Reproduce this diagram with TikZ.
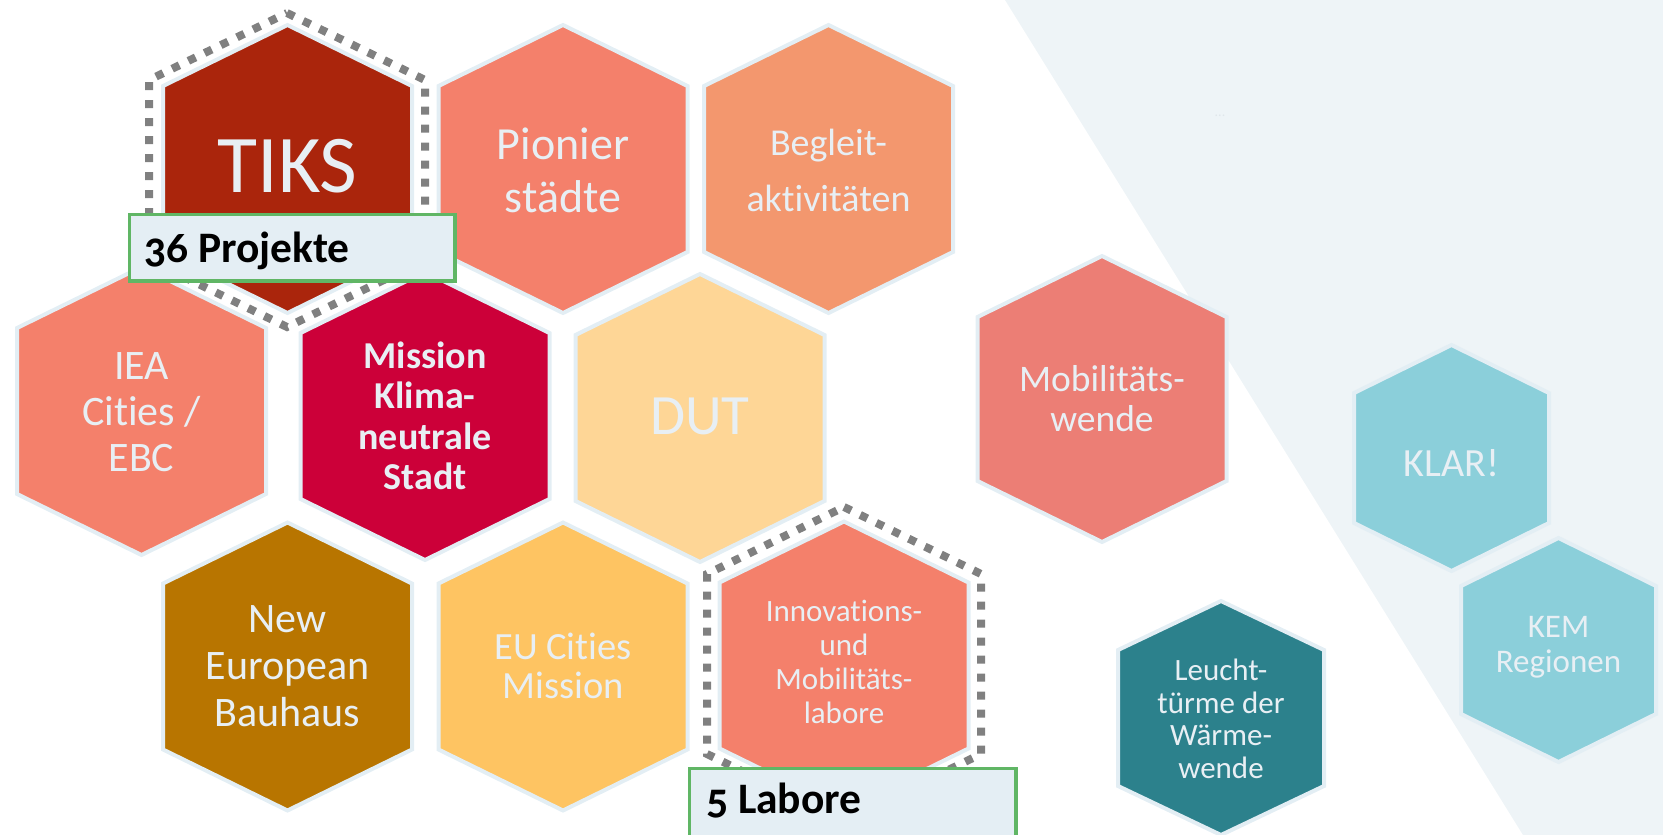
\documentclass[tikz,border=0pt]{standalone}
\usepackage{fontspec}
\setmainfont{Carlito}[Ligatures=NoCommon]
\newfontfamily\tagfont[Numbers=OldStyle, Ligatures=NoCommon]{Carlito}
\usetikzlibrary{positioning}

\definecolor{backdrop}{HTML}{EEF4F7}
\definecolor{hexrim}{HTML}{E3EEF4}
\definecolor{hexink}{HTML}{E8EFF4}
\definecolor{tiksred}{HTML}{AA250C}
\definecolor{salmon}{HTML}{F4806B}
\definecolor{apricot}{HTML}{F3976E}
\definecolor{crimson}{HTML}{CC0039}
\definecolor{paleamber}{HTML}{FED696}
\definecolor{ochre}{HTML}{B87500}
\definecolor{amber}{HTML}{FEC462}
\definecolor{coral}{HTML}{EC7E75}
\definecolor{skyteal}{HTML}{8BCFDA}
\definecolor{deepteal}{HTML}{2C818C}
\definecolor{dotgray}{HTML}{808080}
\definecolor{tagfill}{HTML}{E4EEF4}
\definecolor{tagrim}{HTML}{60B665}
\definecolor{faintdot}{HTML}{E0E7EB}

\tikzset{
  hexcell/.style={draw=hexrim, line width=4pt},
  hexlabel/.style={text=hexink, align=center, inner sep=0pt},
  rimdots/.style={draw=dotgray, line width=8pt, dash pattern=on 8pt off 10pt},
  tagbox/.style={draw=tagrim, fill=tagfill, line width=3.5pt, inner sep=0pt, anchor=north west},
  tagtext/.style={font=\tagfont\bfseries\fontsize{43.5}{48}\selectfont, text=black, inner sep=0pt, anchor=base west}
}

% hexagon with pointed top: centre x, centre y, half width, half height, corner drop
\newcommand{\hexat}[5]{(#1,#2-#4) -- (#1+#3,#2-#4+#5) -- (#1+#3,#2+#4-#5) -- (#1,#2+#4) -- (#1-#3,#2+#4-#5) -- (#1-#3,#2-#4+#5) -- cycle}

\begin{document}
\begin{tikzpicture}[x=1pt, y=-1pt]

\useasboundingbox (0,0) rectangle (1663,835);

\fill[backdrop] (1005,0) -- (1663,0) -- (1663,835) -- (1523,835) -- cycle;
\node[text=faintdot, font=\fontsize{14}{14}\selectfont] (ellipsis) at (1220,116) {...};

% top row
\filldraw[hexcell, fill=tiksred] \hexat{287.5}{169}{124.5}{144}{61};
\filldraw[hexcell, fill=salmon]  \hexat{563}{169}{124.5}{144}{61};
\filldraw[hexcell, fill=apricot] \hexat{828.5}{169}{124.5}{144}{61};

% middle row
\filldraw[hexcell, fill=salmon]    \hexat{141.5}{411}{124.5}{144}{61};
\filldraw[hexcell, fill=crimson]   \hexat{425}{416}{124.5}{144}{61};
\filldraw[hexcell, fill=paleamber] \hexat{700}{418}{124.5}{144}{61};

% bottom row
\filldraw[hexcell, fill=ochre]  \hexat{287.5}{666.5}{124.5}{144}{61};
\filldraw[hexcell, fill=amber]  \hexat{563}{666.5}{124.5}{144}{61};
\filldraw[hexcell, fill=salmon] \hexat{844}{665.5}{124.5}{144}{61};

% right group
\filldraw[hexcell, fill=coral]    \hexat{1102}{399}{124.5}{143}{61};
\filldraw[hexcell, fill=skyteal]  \hexat{1451.5}{458}{97.5}{113}{48};
\filldraw[hexcell, fill=skyteal]  \hexat{1558.5}{650}{97.5}{112}{48};
\filldraw[hexcell, fill=deepteal] \hexat{1221}{718}{103}{117}{49};

\node[hexlabel, font=\fontsize{82}{90}\selectfont] (tiks) at (287.5,166) {TIKS};
\node[hexlabel, font=\fontsize{46}{53}\selectfont] (pionier) at (563,170) {Pionier\\städte};
\node[hexlabel, font=\fontsize{38}{56}\selectfont] (begleit) at (828.5,170) {Begleit-\\aktivitäten};
\node[hexlabel, font=\fontsize{42}{46}\selectfont] (iea) at (141.5,412) {IEA\\Cities /\\EBC};
\node[hexlabel, font=\bfseries\fontsize{38}{40.5}\selectfont] (mission) at (425,416) {Mission\\Klima-\\neutrale\\Stadt};
\node[hexlabel, font=\fontsize{57}{60}\selectfont] (dut) at (700,416) {DUT};
\node[hexlabel, font=\fontsize{42}{47}\selectfont] (bauhaus) at (287.5,666) {New\\European\\Bauhaus};
\node[hexlabel, font=\fontsize{38.5}{39}\selectfont] (eucities) at (563,666) {EU Cities\\Mission};
\node[hexlabel, font=\fontsize{31}{34}\selectfont] (labore) at (844,662) {Innovations-\\und\\Mobilitäts-\\labore};
\node[hexlabel, font=\fontsize{37.5}{40}\selectfont] (mobil) at (1102,399) {Mobilitäts-\\wende};
\node[hexlabel, font=\fontsize{40}{40}\selectfont] (klar) at (1451.5,463) {KLAR!};
\node[hexlabel, font=\fontsize{33}{35}\selectfont] (kem) at (1558.5,647) {KEM\\Regionen};
\node[hexlabel, font=\fontsize{31}{32.5}\selectfont] (leucht) at (1221,719) {Leucht-\\türme der\\Wärme-\\wende};

% dotted outlines
\draw[rimdots] \hexat{287}{170}{138}{157}{67};
\draw[rimdots] \hexat{844}{664}{137}{157}{67};

% count boxes
\node[tagbox, minimum width=325.5pt, minimum height=66.5pt] (projbox) at (127.75,212.75) {};
\node[tagtext] (projtext) at (144,262) {36 Projekte};
\node[tagbox, minimum width=326.5pt, minimum height=90pt] (laborbox) at (687.75,766.75) {};
\node[tagtext] (labortext) at (706,813) {5 Labore};

\end{tikzpicture}
\end{document}
